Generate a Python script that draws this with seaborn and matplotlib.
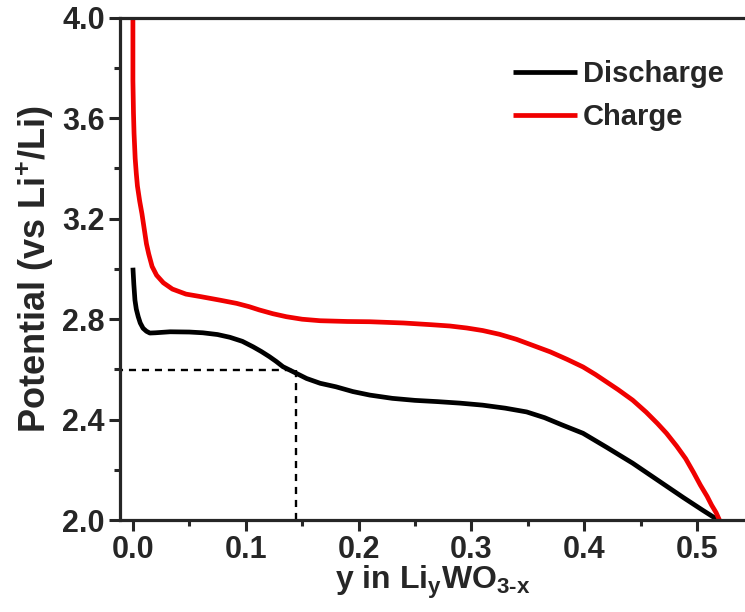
import numpy as np
import pandas as pd
import matplotlib
matplotlib.use("Agg")
import matplotlib.pyplot as plt
import seaborn as sns
from matplotlib.ticker import MultipleLocator

# Data
discharge_x = [0.0, 0.0008, 0.0018, 0.003, 0.0047, 0.0065, 0.009, 0.012, 0.015, 0.02,
               0.033, 0.05, 0.062, 0.075, 0.086, 0.097, 0.1066, 0.114, 0.121, 0.127,
               0.133, 0.142, 0.154, 0.166, 0.18, 0.195, 0.21, 0.23, 0.25, 0.27, 0.29,
               0.31, 0.33, 0.349, 0.365, 0.38, 0.399, 0.42, 0.443, 0.465, 0.488,
               0.505, 0.519]
discharge_v = [3.005, 2.94, 2.876, 2.84, 2.81, 2.785, 2.764, 2.752, 2.745, 2.746,
               2.75, 2.749, 2.746, 2.739, 2.728, 2.712, 2.69, 2.671, 2.651, 2.632,
               2.611, 2.591, 2.564, 2.545, 2.531, 2.512, 2.498, 2.485, 2.477, 2.472,
               2.466, 2.458, 2.446, 2.431, 2.408, 2.38, 2.346, 2.29, 2.227, 2.16,
               2.09, 2.04, 2.0]
charge_x = [0.0, 0.0, 0.0005, 0.001, 0.002, 0.003, 0.004, 0.006, 0.008, 0.010, 0.012,
            0.014, 0.017, 0.021, 0.027, 0.035, 0.047, 0.06, 0.077, 0.092, 0.103,
            0.112, 0.124, 0.136, 0.15, 0.166, 0.19, 0.21, 0.24, 0.265, 0.281, 0.296,
            0.31, 0.325, 0.34, 0.355, 0.37, 0.385, 0.399, 0.41, 0.42, 0.43, 0.443,
            0.455, 0.465, 0.473, 0.482, 0.49, 0.497, 0.503, 0.509, 0.513, 0.517, 0.52]
charge_v = [4.0, 3.75, 3.62, 3.54, 3.44, 3.38, 3.33, 3.27, 3.22, 3.16, 3.1,
            3.06, 3.01, 2.975, 2.945, 2.92, 2.9, 2.89, 2.876, 2.863, 2.85,
            2.837, 2.822, 2.81, 2.80, 2.794, 2.791, 2.79, 2.785, 2.778, 2.773, 2.765,
            2.755, 2.74, 2.72, 2.695, 2.67, 2.64, 2.61, 2.58, 2.55, 2.52, 2.478,
            2.43, 2.385, 2.346, 2.295, 2.245, 2.19, 2.14, 2.095, 2.06, 2.03, 2.0]
marker_x = 0.1445
marker_v = 2.597
x_ticks = [0.0, 0.1, 0.2, 0.3, 0.4, 0.5]
y_ticks = [2.0, 2.4, 2.8, 3.2, 3.6, 4.0]

sns.set_style("ticks")
plt.rcParams['font.family'] = ['Liberation Sans', 'DejaVu Sans']
plt.rcParams['font.weight'] = 'bold'
plt.rcParams['mathtext.fontset'] = 'custom'
plt.rcParams['mathtext.rm'] = 'Liberation Sans:bold'
plt.rcParams['mathtext.it'] = 'Liberation Sans:bold'
plt.rcParams['mathtext.bf'] = 'Liberation Sans:bold'
plt.rcParams['mathtext.default'] = 'regular'

df = pd.concat([
    pd.DataFrame({'x': discharge_x, 'v': discharge_v, 'series': 'Discharge'}),
    pd.DataFrame({'x': charge_x, 'v': charge_v, 'series': 'Charge'}),
], ignore_index=True)

fig = plt.figure(figsize=(7.45, 6.12), dpi=100)
ax = fig.add_axes([0.161, 0.150, 0.839, 0.821])

sns.lineplot(data=df, x='x', y='v', hue='series', sort=False, estimator=None,
             palette={'Discharge': '#000000', 'Charge': '#f00000'},
             linewidth=3.4, ax=ax)
for line in ax.get_lines():
    line.set_solid_joinstyle('round')
    line.set_solid_capstyle('butt')

ax.plot([-0.05, marker_x], [marker_v, marker_v], ls=(0, (3, 2.5)), color='black', lw=1.7)
ax.plot([marker_x, marker_x], [2.0, marker_v], ls=(0, (3, 2.5)), color='black', lw=1.7)

ax.set_xlim(-0.0115, 0.5426)
ax.set_ylim(2.0, 4.0)
ax.set_xticks(x_ticks)
ax.set_yticks(y_ticks)
ax.set_xticklabels([f"{t:.1f}" for t in x_ticks])
ax.set_yticklabels([f"{t:.1f}" for t in y_ticks])
ax.xaxis.set_minor_locator(MultipleLocator(0.05))
ax.yaxis.set_minor_locator(MultipleLocator(0.2))
ax.tick_params(which='major', direction='out', length=8, width=2.2, labelsize=22, pad=3)
ax.tick_params(which='minor', direction='out', length=4.5, width=2.2)
for lab in ax.get_xticklabels() + ax.get_yticklabels():
    lab.set_fontweight('bold')

for s in ['left', 'bottom', 'top']:
    ax.spines[s].set_linewidth(2.3)
ax.spines['right'].set_visible(False)

ax.set_xlabel(r"y in Li$_{y}$WO$_{3\text{-}x}$", fontsize=23, fontweight='bold', labelpad=-1)
ax.set_ylabel(r"Potential (vs Li$^{+}$/Li)", fontsize=26, fontweight='bold', labelpad=4)

leg = ax.legend(loc='upper left', bbox_to_anchor=(0.629, 0.915), frameon=False,
                fontsize=21, handlelength=2.2, handletextpad=0.2, labelspacing=0.5,
                borderpad=0, borderaxespad=0, title=None)
for t in leg.get_texts():
    t.set_fontweight('bold')
for l in leg.get_lines():
    l.set_linewidth(3.4)

fig.savefig('out.png', dpi=100)
